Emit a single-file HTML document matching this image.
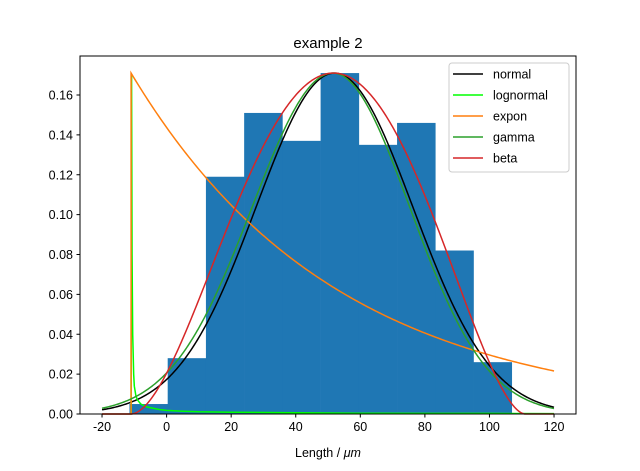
<!DOCTYPE html>
<html><head><meta charset="utf-8"><style>
body{margin:0;background:#fff}
svg text{font-family:"Liberation Sans","DejaVu Sans",sans-serif;fill:#000}
</style></head><body>
<svg id="c" width="640" height="466" xmlns="http://www.w3.org/2000/svg"></svg>
<script>
const binEdges=[-11.5,0.34,12.18,24.02,35.86,47.7,59.54,71.38,83.22,95.06,106.9];
const binHeights=[0.005,0.028,0.119,0.151,0.137,0.171,0.135,0.146,0.082,0.026];
const xTicks=[-20,0,20,40,60,80,100,120];
const yTicks=[0,0.02,0.04,0.06,0.08,0.10,0.12,0.14,0.16];
const yTickLabels=["0.00","0.02","0.04","0.06","0.08","0.10","0.12","0.14","0.16"];
const normalParams=[52,24.3,0.171];
const gammaParams=[51.5,24.3,0.171];
const exponParams=[-11,0.171,0.0158];
const betaParams=[-11,111,1.85,1.75,0.171];
const lognormX=[-11,-10.85,-10.7,-10.5,-10.2,-10,-9.5,-9,-8,-6,-4,-2,0,5,10,20,40,60,80,100,120];
const lognormY=[0,0.17,0.08,0.04,0.02,0.014,0.009,0.007,0.005,0.0035,0.0028,0.0022,0.0018,0.0014,0.0011,0.0009,0.0006,0.0004,0.0003,0.0003,0.0002];
const seriesNames=["normal","lognormal","expon","gamma","beta"];
const seriesColors=["#000000","#00ff00","#ff7f0e","#2ca02c","#d62728"];

const L=80,R=576,T=56,B=414;
const X=v=>166.6+v*3.2286, Y=v=>B-v*1993.75;
const svg=document.getElementById('c');
const NS='http://www.w3.org/2000/svg';
function mk(tag,attrs,parent){const e=document.createElementNS(NS,tag);for(const k in attrs)e.setAttribute(k,attrs[k]);(parent||svg).appendChild(e);return e;}

const bars=mk('g',{});


binHeights.forEach((h,i)=>{
  const r=mk('rect',{x:X(binEdges[i]),y:Y(h),width:X(binEdges[i+1])-X(binEdges[i])+0.3,height:B-Y(h),fill:'#1f77b4'},bars);
  
  
});

function xs(a,b,n){const o=[];for(let i=0;i<=n;i++)o.push(a+(b-a)*i/n);return o;}
const grid=xs(-20,120,400);
const normF=(p,x)=>p[2]*Math.exp(-((x-p[0])**2)/(2*p[1]*p[1]));
const curves=[];
curves.push(grid.map(x=>[x,normF(normalParams,x)]));
curves.push(lognormX.map((x,i)=>[x,lognormY[i]]));
curves.push([[-20,0],[exponParams[0],0]].concat(xs(exponParams[0],120,200).map(x=>[x,exponParams[1]*Math.exp(-exponParams[2]*(x-exponParams[0]))])));
curves.push(grid.map(x=>{const s=x<gammaParams[0]?1.03:0.98;return [x,gammaParams[2]*Math.exp(-((x-gammaParams[0])**2)/(2*(gammaParams[1]*s)**2))];}));
const [ba,bb,bp,bq,bpk]=betaParams;
const tm=bp/(bp+bq), bmax=Math.pow(tm,bp)*Math.pow(1-tm,bq);
curves.push(grid.map(x=>{const t=(x-ba)/(bb-ba);return [x,(t<=0||t>=1)?0:bpk*Math.pow(t,bp)*Math.pow(1-t,bq)/bmax];}));
curves.forEach((c,i)=>{
  const p=mk('path',{d:'M'+c.map(q=>X(q[0]).toFixed(2)+','+Y(q[1]).toFixed(2)).join('L'),fill:'none',stroke:seriesColors[i],'stroke-width':1.5});
  
  
});

const frame=mk('rect',{x:L,y:T,width:R-L,height:B-T,fill:'none',stroke:'#000','stroke-width':1});



xTicks.forEach(v=>{
  mk('line',{x1:X(v),x2:X(v),y1:B,y2:B+3.5,stroke:'#000'});
  const t=mk('text',{x:X(v),y:B+17,'text-anchor':'middle','font-size':12.5});
  t.textContent=v;
  
  
});
yTicks.forEach((v,i)=>{
  mk('line',{x1:L-3.5,x2:L,y1:Y(v),y2:Y(v),stroke:'#000'});
  const t=mk('text',{x:L-7,y:Y(v)+4.5,'text-anchor':'end','font-size':12.5});
  t.textContent=yTickLabels[i];
  
  
});

const title=mk('text',{x:328,y:48,'text-anchor':'middle','font-size':15});
title.textContent='example 2';


const xl=mk('text',{x:328,y:457,'text-anchor':'middle','font-size':12.5});
xl.innerHTML='Length  /  <tspan font-style="italic">μm</tspan>';
xl.setAttribute('xml:space','preserve');



const lg=mk('g',{});


mk('rect',{x:449,y:63,width:120,height:109,rx:3,fill:'#fff','fill-opacity':0.8,stroke:'#ccc'},lg);
seriesNames.forEach((n,i)=>{
  const y=74+i*21;
  const e=mk('g',{},lg);
  
  
  mk('line',{x1:453,x2:483,y1:y,y2:y,stroke:seriesColors[i],'stroke-width':1.5},e);
  const t=mk('text',{x:493,y:y+4.5,'font-size':12.5},e);
  t.textContent=n;
});
</script>
</body></html>
